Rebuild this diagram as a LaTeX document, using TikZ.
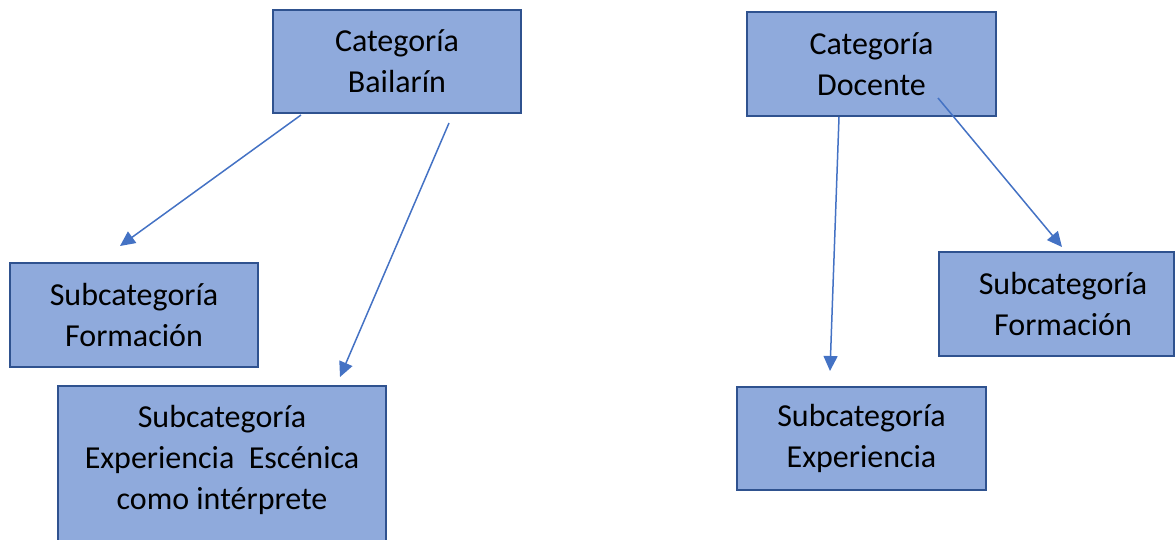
\documentclass[tikz,border=0pt]{standalone}
\usepackage{fontspec}
\setmainfont{Carlito}
\usetikzlibrary{arrows.meta}
\definecolor{boxfill}{HTML}{8FAADC}
\definecolor{boxline}{HTML}{2F528F}
\definecolor{arrowcol}{HTML}{4472C4}
\begin{document}
\begin{tikzpicture}[x=1pt,y=-1pt,
  box/.style={draw=boxline, fill=boxfill, line width=2.4pt, inner sep=0pt,
    align=center, font=\fontsize{32}{41}\selectfont},
  boxtext/.style={align=center, font=\fontsize{32}{41}\selectfont, inner sep=0pt},
  conn/.style={draw=arrowcol, line width=1.5pt, -{Triangle[length=15pt,width=14pt]}}]
\useasboundingbox (0,0) rectangle (1176,540);
\clip (0,0) rectangle (1176,540);

% boxes
\node[box, minimum width=248pt, minimum height=103pt] (bail) at (397,61.5) {Categoría\\Bailarín};
\node[box, minimum width=249pt, minimum height=104pt] (doc) at (871.5,64) {Categoría\\Docente};
\node[box, minimum width=248pt, minimum height=104pt] (formA) at (134,315) {Subcategoría\\Formación};
\node[box, minimum width=328pt, minimum height=170pt] (expA) at (222,471) {};
\node[boxtext] (expAt) at (222,460) {Subcategoría\\Experiencia~ Escénica\\como intérprete};
\node[box, minimum width=235pt, minimum height=104pt] (formB) at (1056.5,304) {\hspace*{13pt}Subcategoría\\\hspace*{13pt}Formación};
\node[box, minimum width=249pt, minimum height=103pt] (expB) at (861.5,438.5) {Subcategoría\\Experiencia};

% connector end points
\coordinate (a1s) at (301,115);
\coordinate (a1e) at (120,246);
\coordinate (a2s) at (449,123);
\coordinate (a2e) at (340,377);
\coordinate (a3s) at (839,117);
\coordinate (a3e) at (830,371);
\coordinate (a4s) at (938,98);
\coordinate (a4e) at (1062,247);

\draw[conn] (a1s) -- (a1e);
\draw[conn] (a2s) -- (a2e);
\draw[conn] (a3s) -- (a3e);
\draw[conn] (a4s) -- (a4e);
\end{tikzpicture}
\end{document}
